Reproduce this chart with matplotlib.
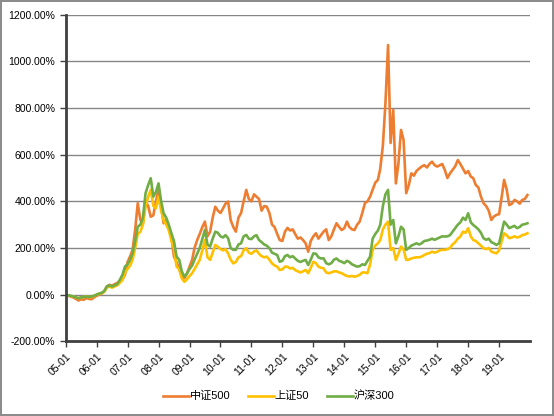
import numpy as np
import pandas as pd
import matplotlib
matplotlib.use('Agg')
import matplotlib.pyplot as plt
import matplotlib.dates as mdates
from matplotlib.ticker import FuncFormatter, MultipleLocator

plt.rcParams['font.family'] = ['Liberation Sans', 'Noto Sans CJK SC', 'DejaVu Sans']

# monthly cumulative return (%), 2005-01 .. 2019-12
months = pd.date_range('2005-01-01', periods=180, freq='MS')

zz500 = [
    0, -5, -8, -12, -18, -25, -20, -22, -15, -18, -20, -12,
    -5, 0, 5, 15, 35, 42, 38, 45, 50, 60, 65, 85,
    140, 165, 192, 280, 392, 320, 306, 400, 380, 334, 340, 400,
    449, 380, 306, 320, 280, 249, 163, 140, 110, 80, 70, 90,
    120, 150, 200, 234, 260, 290, 313, 250, 270, 330, 377, 360,
    350, 370, 390, 399, 320, 290, 270, 330, 350, 400, 449, 410,
    400, 430, 420, 410, 360, 380, 377, 350, 300, 290, 260, 234,
    230, 270, 286, 275, 280, 260, 240, 245, 234, 220, 184, 230,
    250, 263, 240, 255, 270, 280, 234, 250, 280, 306, 290, 277,
    285, 313, 290, 280, 277, 300, 313, 350, 392, 400, 420, 450,
    480, 492, 540, 640, 820, 1070, 650, 792, 477, 560, 706, 663,
    435, 470, 520, 510, 530, 540, 549, 555, 545, 560, 570, 555,
    549, 555, 560, 534, 500, 520, 535, 550, 577, 560, 540, 520,
    530, 506, 500, 470, 460, 420, 392, 380, 360, 320, 335, 342,
    345, 420, 492, 450, 384, 390, 406, 400, 390, 406, 410, 427,
]

sz50 = [
    0, -3, -6, -8, -12, -15, -12, -10, -8, -10, -10, -6,
    0, 3, 6, 12, 30, 35, 30, 35, 40, 50, 62, 95,
    110, 125, 150, 200, 260, 270, 300, 377, 420, 449, 380, 370,
    420, 360, 320, 300, 277, 230, 200, 120, 110, 70, 55, 65,
    80, 92, 110, 130, 149, 190, 234, 160, 149, 180, 213, 205,
    195, 190, 195, 177, 150, 134, 140, 160, 165, 190, 199, 180,
    175, 185, 190, 175, 165, 160, 163, 150, 134, 125, 120, 106,
    108, 120, 120, 112, 115, 105, 100, 95, 100, 106, 92, 115,
    141, 135, 120, 115, 113, 95, 92, 95, 100, 100, 95, 92,
    85, 80, 78, 80, 77, 80, 85, 95, 95, 92, 130, 192,
    210, 220, 234, 280, 300, 313, 192, 200, 149, 175, 206, 195,
    149, 150, 155, 158, 160, 160, 163, 170, 175, 178, 184, 180,
    184, 190, 192, 192, 195, 200, 215, 225, 240, 249, 270, 265,
    285, 250, 234, 230, 220, 210, 199, 195, 200, 185, 180, 177,
    190, 230, 263, 255, 242, 245, 250, 245, 248, 255, 258, 263,
]

hs300 = [
    0, -3, -5, -8, -12, -15, -12, -10, -8, -10, -8, -5,
    0, 5, 8, 15, 35, 40, 35, 40, 45, 63, 85, 120,
    130, 150, 177, 230, 291, 300, 330, 435, 470, 499, 420, 440,
    477, 400, 349, 330, 300, 263, 230, 163, 150, 100, 77, 90,
    110, 125, 150, 175, 200, 240, 277, 215, 206, 240, 270, 265,
    250, 245, 255, 242, 200, 192, 192, 215, 220, 250, 256, 240,
    238, 250, 255, 234, 225, 215, 210, 199, 180, 175, 170, 141,
    145, 165, 170, 160, 165, 155, 145, 140, 145, 149, 127, 150,
    177, 175, 160, 155, 156, 135, 130, 135, 150, 155, 145, 141,
    135, 145, 140, 130, 125, 120, 122, 130, 127, 145, 163, 240,
    260, 275, 300, 380, 430, 449, 300, 320, 220, 250, 291, 280,
    192, 200, 210, 215, 220, 215, 220, 230, 232, 235, 240, 235,
    240, 245, 250, 249, 250, 255, 270, 285, 300, 310, 330, 320,
    349, 310, 299, 290, 280, 265, 242, 235, 240, 225, 220, 213,
    220, 270, 313, 300, 285, 290, 295, 285, 290, 300, 302, 306,
]

names = ['中证500', '上证50', '沪深300']
colors = ['#ED7D31', '#FFC000', '#70AD47']

fig = plt.figure(figsize=(5.54, 4.16), dpi=100)
fig.patch.set_edgecolor('#8c8c8c')
fig.patch.set_linewidth(1.5)
ax = fig.add_axes([0.1186, 0.1796, 0.838, 0.785])

for vals, name, c in zip([zz500, sz50, hs300], names, colors):
    ax.plot(months, vals, color=c, lw=1.9, label=name)

ax.set_ylim(-200, 1200)
ax.yaxis.set_major_locator(MultipleLocator(200))
ax.yaxis.set_major_formatter(FuncFormatter(lambda v, p: '%.2f%%' % v))
ax.grid(axis='y', color='#868686', lw=1)
ax.set_axisbelow(True)

ax.set_xlim(pd.Timestamp('2005-01-01'), pd.Timestamp('2019-12-31'))
ax.xaxis.set_major_locator(mdates.YearLocator())
ax.xaxis.set_major_formatter(mdates.DateFormatter('%y-%m'))
plt.setp(ax.get_xticklabels(), rotation=45, ha='right', rotation_mode='anchor')

for s in ['top', 'right']:
    ax.spines[s].set_visible(False)
for s in ['left', 'bottom']:
    ax.spines[s].set_color('#404040')
    ax.spines[s].set_linewidth(2)
ax.tick_params(axis='both', labelsize=7.5, colors='#404040', length=4, width=1,
               labelcolor='black')

fig.legend(*ax.get_legend_handles_labels(), loc='center', bbox_to_anchor=(0.503, 0.048),
           ncol=3, frameon=False, fontsize=8, handlelength=2.3, handletextpad=0.1,
           columnspacing=1.6)

fig.savefig('out.png', dpi=100)
